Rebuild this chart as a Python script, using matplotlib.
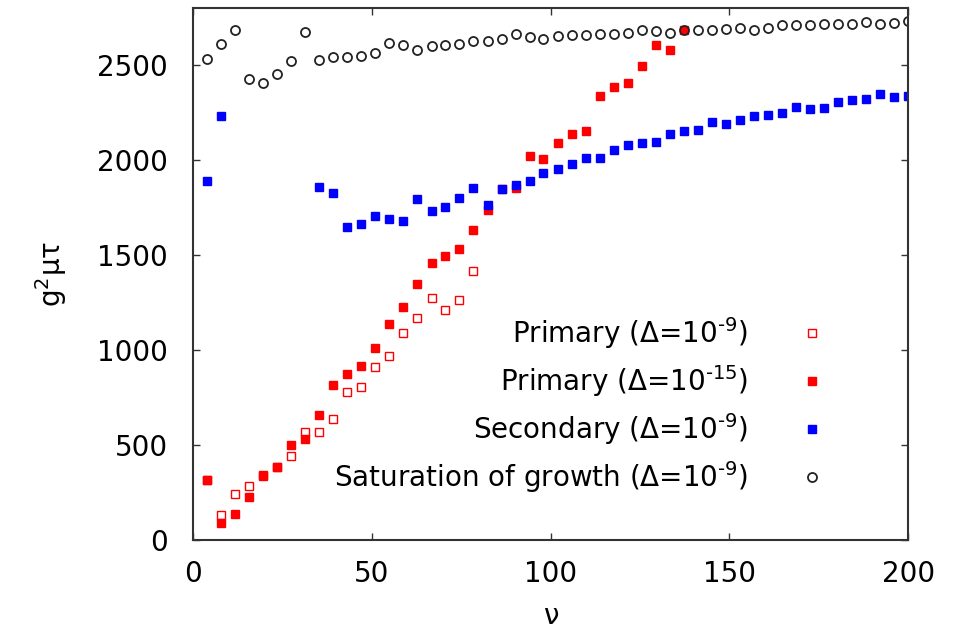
import numpy as np
import matplotlib
matplotlib.use('Agg')
from matplotlib import pyplot as plt

plt.rcParams['font.family'] = ['DejaVu Sans']
plt.rcParams['mathtext.fontset'] = 'dejavusans'
plt.rcParams['mathtext.default'] = 'regular'

# nu values (51 equally spaced samples up to 200)
nu = [3.9, 7.8, 11.8, 15.7, 19.6, 23.5, 27.5, 31.4, 35.3, 39.2,
      43.1, 47.1, 51.0, 54.9, 58.8, 62.7, 66.7, 70.6, 74.5, 78.4,
      82.4, 86.3, 90.2, 94.1, 98.0, 102.0, 105.9, 109.8, 113.7, 117.6,
      121.6, 125.5, 129.4, 133.3, 137.3, 141.2, 145.1, 149.0, 152.9, 156.9,
      160.8, 164.7, 168.6, 172.5, 176.5, 180.4, 184.3, 188.2, 192.2, 196.1,
      200.0]

primary_9 = [316, 132, 242, 286, 341, 386, 444, 570, 567, 640,
             781, 807, 912, 970, 1088, 1172, 1277, 1214, 1263, 1417]

primary_15 = [316, 88, 140, 225, 337, 386, 503, 531, 661, 816,
              877, 918, 1012, 1140, 1228, 1347, 1460, 1495, 1535, 1632,
              1740, 1846, 1856, 2023, 2009, 2093, 2140, 2153, 2337, 2386,
              2407, 2496, 2609, 2579, 2688]

nan = np.nan
secondary = [1889, 2233, nan, nan, nan, nan, nan, nan, 1860, 1825,
             1649, 1663, 1705, 1688, 1681, 1795, 1733, 1753, 1801, 1856,
             1763, 1846, 1868, 1891, 1933, 1956, 1979, 2014, 2014, 2053,
             2079, 2091, 2096, 2140, 2154, 2161, 2202, 2189, 2211, 2232,
             2237, 2249, 2281, 2268, 2277, 2307, 2316, 2321, 2346, 2333,
             2337]

saturation = [2535, 2614, 2688, 2425, 2407, 2453, 2523, 2675, 2525, 2544,
              2544, 2549, 2566, 2617, 2605, 2579, 2600, 2605, 2614, 2628,
              2628, 2637, 2667, 2646, 2640, 2653, 2658, 2658, 2667, 2667,
              2672, 2684, 2681, 2672, 2688, 2688, 2688, 2693, 2698, 2688,
              2698, 2710, 2710, 2710, 2716, 2716, 2716, 2728, 2719, 2723,
              2733]

fig = plt.figure(figsize=(9.58, 6.34), dpi=100)
ax = fig.add_axes([0.2015, 0.148, 0.7465, 0.839])

ax.plot(nu[:len(primary_9)], primary_9, 's', ms=5.5, mfc='white', mec='#ff0000', mew=1.0,
        label=r'Primary ($\Delta$=10$^{\text{-}9}$)')
ax.plot(nu[:len(primary_15)], primary_15, 's', ms=5.5, color='#ff0000', mec='#ff0000',
        label=r'Primary ($\Delta$=10$^{\text{-}15}$)')
ax.plot(nu, secondary, 's', ms=5.5, color='#0000ff', mec='#0000ff',
        label=r'Secondary ($\Delta$=10$^{\text{-}9}$)')
ax.plot(nu, saturation, 'o', ms=6.5, mfc='none', mec='#222222', mew=1.3,
        label=r'Saturation of growth ($\Delta$=10$^{\text{-}9}$)')

ax.set_xlim(0, 200)
ax.set_ylim(0, 2800)
ax.set_xticks([0, 50, 100, 150, 200])
ax.set_yticks([0, 500, 1000, 1500, 2000, 2500])
ax.tick_params(direction='in', top=True, right=True, length=5, width=1,
               labelsize=20, color='#333333')
ax.tick_params(axis='y', pad=18)
ax.tick_params(axis='x', pad=14)
for s in ax.spines.values():
    s.set_linewidth(1.5)
    s.set_color('#333333')

ax.set_xlabel('ν', fontsize=20, labelpad=10)
ax.set_ylabel(r'g$^{2}$μτ', fontsize=20, labelpad=20)

ax.legend(loc='lower right', bbox_to_anchor=(0.885, 0.085), frameon=False,
          markerfirst=False, fontsize=20, handlelength=1.0, handletextpad=1.8,
          labelspacing=0.44, borderpad=0, borderaxespad=0)

fig.savefig('out.png', dpi=100)
